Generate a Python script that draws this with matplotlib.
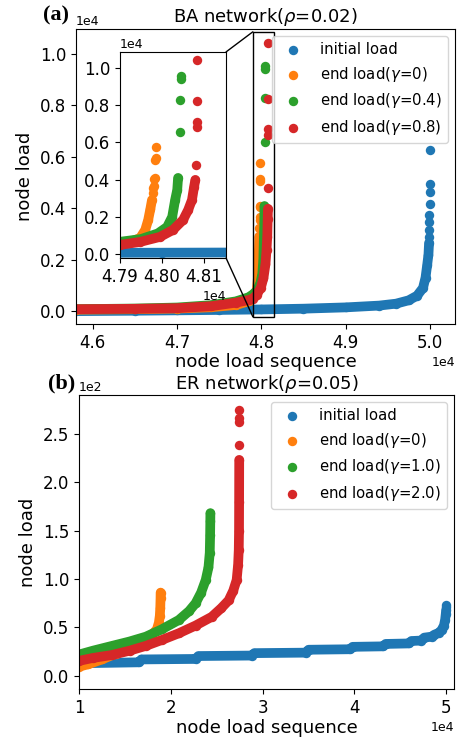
import matplotlib
matplotlib.use('Agg')
import matplotlib.pyplot as plt
from matplotlib.patches import Rectangle, ConnectionPatch
from matplotlib.ticker import MultipleLocator

# ---------------- datos panel (a): BA network ----------------
ba_init_x = [45800, 46500, 47000, 47500, 48000, 48500, 49000, 49400, 49600,
             49750, 49850, 49920, 49950, 49970, 49985, 49992]
ba_init_y = [0, 15, 30, 45, 65, 95, 145, 215, 290, 420, 600, 900, 1300,
             1800, 2200, 2650]
ba_init_top_x = [49995, 49996, 49996, 49997, 49998, 49998, 49999, 50000]
ba_init_top_y = [2880, 3150, 3460, 3735, 4160, 4630, 4940, 6260]

ba_g0_x = [45800, 46500, 47000, 47400, 47700, 47850, 47920, 47948, 47960,
           47967, 47972, 47976]
ba_g0_y = [55, 75, 100, 150, 240, 380, 600, 860, 1290, 1830, 2400, 2900]
ba_g0_top_x = [47978, 47979, 47980, 47981, 47982, 47984, 47985, 47986]
ba_g0_top_y = [3250, 3550, 3650, 4050, 4100, 5050, 5150, 5770]

ba_g04_x = [45800, 46500, 47000, 47400, 47700, 47850, 47900, 47950, 47990,
            48012, 48024, 48031, 48036, 48038]
ba_g04_y = [75, 100, 140, 230, 380, 540, 650, 800, 1100, 1450, 1990, 2900,
            3440, 4085]
ba_g04_top_x = [48042, 48043, 48044, 48044]
ba_g04_top_y = [6560, 8280, 9420, 9540]

ba_g08_x = [45800, 46500, 47000, 47400, 47700, 47850, 47900, 47948, 47995,
            48026, 48050, 48062, 48071, 48076, 48079]
ba_g08_y = [75, 90, 115, 190, 330, 430, 484, 645, 914, 1290, 1830, 2365,
            2900, 3600, 3980]
ba_g08_top_x = [48081, 48082, 48083, 48083, 48084]
ba_g08_top_y = [4785, 6845, 7100, 8240, 10430]

ba_labels = ['initial load', r'end load($\gamma$=0)',
             r'end load($\gamma$=0.4)', r'end load($\gamma$=0.8)']

# ---------------- datos panel (b): ER network ----------------
er_init_x = [10000, 16500, 16800, 22700, 23000, 28800, 29100, 34700, 35000,
             39500, 39800, 43100, 43400, 45900, 46200, 47300, 47600, 48400,
             48700, 49200, 49500, 49750, 49880, 49950, 49990]
er_init_y = [13, 14, 17, 17.5, 20.5, 21, 23.5, 24, 27, 27.5, 30, 30.5, 33,
             33.5, 36, 36.5, 39.5, 40.5, 42.5, 44.5, 47.5, 52, 58, 64, 68]
er_init_top_x = [50000, 50000]
er_init_top_y = [71, 73]

er_g0_x = [10000, 11000, 12500, 14000, 15500, 17000, 18000, 18480, 18700,
           18800, 18850, 18880, 18890]
er_g0_y = [9.5, 12, 17, 23, 29, 37, 43, 48, 55, 62, 70, 80, 86]

er_g1_x = [10000, 11500, 13600, 15500, 17280, 19000, 20870, 22000, 22700,
           23300, 23800, 24100, 24240, 24280, 24300, 24310]
er_g1_y = [22, 26, 31, 35.5, 40.5, 48, 57.7, 67, 75, 86, 99, 112, 127, 145,
           160, 168]

er_g2_x = [10000, 11500, 13600, 15500, 17280, 19000, 20870, 22700, 24460,
           25500, 26300, 26800, 27170, 27330, 27400, 27430, 27440, 27450]
er_g2_y = [15.5, 18.5, 21.6, 26, 31, 37, 44, 52, 61, 70, 78, 88, 99, 115,
           130, 150, 180, 223]
er_g2_top_x = [27455, 27458, 27460, 27462]
er_g2_top_y = [238, 262, 266, 275]

er_labels = ['initial load', r'end load($\gamma$=0)',
             r'end load($\gamma$=1.0)', r'end load($\gamma$=2.0)']

colors = ['#1f77b4', '#ff7f0e', '#2ca02c', '#d62728']


# Dibuja una serie: banda gruesa + puntos
def draw_series(ax, x, y, tx, ty, color, label, z):
    ax.plot(x, y, color=color, lw=7, solid_capstyle='round', zorder=z)
    ax.scatter(list(x) + list(tx), list(y) + list(ty), s=46, color=color,
               label=label, zorder=z, linewidths=0)


def style_axes(ax, tick_size=12):
    ax.ticklabel_format(axis='both', style='sci', scilimits=(0, 0), useOffset=False)
    ax.tick_params(labelsize=tick_size)
    ax.xaxis.get_offset_text().set_fontsize(9)
    ax.yaxis.get_offset_text().set_fontsize(9)


fig = plt.figure(figsize=(4.57, 7.39), dpi=100)

# ---------------- panel (a) ----------------
ax1 = fig.add_axes([0.1663, 0.5616, 0.8293, 0.3992])
ba_series = [
    (ba_init_x, ba_init_y, ba_init_top_x, ba_init_top_y),
    (ba_g0_x, ba_g0_y, ba_g0_top_x, ba_g0_top_y),
    (ba_g04_x, ba_g04_y, ba_g04_top_x, ba_g04_top_y),
    (ba_g08_x, ba_g08_y, ba_g08_top_x, ba_g08_top_y),
]
for i, (x, y, tx, ty) in enumerate(ba_series):
    draw_series(ax1, x, y, tx, ty, colors[i], ba_labels[i], 2 + i * 0.1)
ax1.set_xlim(45800, 50300)
ax1.set_ylim(-500, 10970)
ax1.xaxis.set_major_locator(MultipleLocator(1000))
ax1.yaxis.set_major_locator(MultipleLocator(2000))
style_axes(ax1)
ax1.set_xlabel('node load sequence', fontsize=13, labelpad=1)
ax1.set_ylabel('node load', fontsize=13)
ax1.set_title(r'BA network($\rho$=0.02)', fontsize=13, pad=5)
leg1 = ax1.legend(loc='upper right', fontsize=10.7)
leg1.set_zorder(10)

# inset
zx0, zx1, zy0, zy1 = 47900, 48152, -220, 10860
axin = fig.add_axes([0.2626, 0.6509, 0.232, 0.2788])
for i, (x, y, tx, ty) in enumerate(ba_series):
    draw_series(axin, x, y, tx, ty, colors[i], None, 2 + i * 0.1)
axin.set_xlim(zx0, zx1)
axin.set_ylim(zy0, zy1)
axin.xaxis.set_major_locator(MultipleLocator(100))
axin.yaxis.set_major_locator(MultipleLocator(2000))
style_axes(axin)

ax1.add_patch(Rectangle((zx0, zy0), zx1 - zx0, zy1 - zy0, fill=False,
                        edgecolor='black', lw=1, zorder=5))
for ya, yb in [(1, zy1), (0, zy0)]:
    con = ConnectionPatch(xyA=(1, ya), coordsA=axin.transAxes,
                          xyB=(zx0, yb), coordsB=ax1.transData,
                          color='black', lw=1)
    fig.add_artist(con)

# ---------------- panel (b) ----------------
ax2 = fig.add_axes([0.1729, 0.0677, 0.8206, 0.3978])
er_series = [
    (er_init_x, er_init_y, er_init_top_x, er_init_top_y),
    (er_g0_x, er_g0_y, [], []),
    (er_g1_x, er_g1_y, [], []),
    (er_g2_x, er_g2_y, er_g2_top_x, er_g2_top_y),
]
for i, (x, y, tx, ty) in enumerate(er_series):
    draw_series(ax2, x, y, tx, ty, colors[i], er_labels[i], 2 + i * 0.1)
ax2.set_xlim(10000, 50850)
ax2.set_ylim(-13.5, 290)
ax2.xaxis.set_major_locator(MultipleLocator(10000))
ax2.yaxis.set_major_locator(MultipleLocator(50))
style_axes(ax2)
ax2.set_xlabel('node load sequence', fontsize=13, labelpad=2)
ax2.set_ylabel('node load', fontsize=13)
ax2.set_title(r'ER network($\rho$=0.05)', fontsize=13, pad=4)
ax2.legend(loc='upper right', fontsize=10.7)

# Etiquetas de panel
fig.text(43 / 457, 1 - 15.5 / 739, '(a)', family='Liberation Serif',
         weight='bold', fontsize=16, ha='left', va='center')
fig.text(48 / 457, 1 - 383.5 / 739, '(b)', family='Liberation Serif',
         weight='bold', fontsize=16, ha='left', va='center')

fig.savefig('out.png', dpi=100)
